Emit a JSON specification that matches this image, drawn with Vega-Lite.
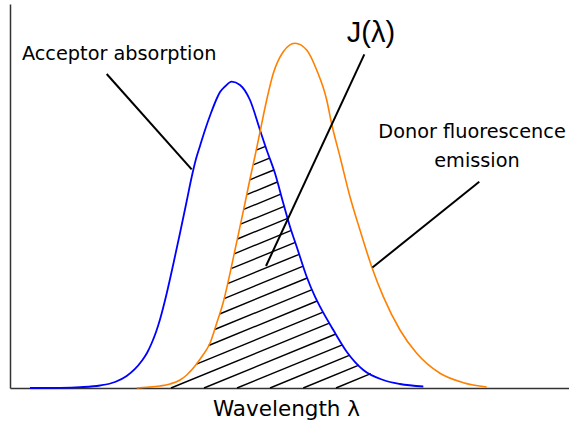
{
  "$schema": "https://vega.github.io/schema/vega-lite/v6.json",
  "usermeta": {"embedOptions": {"actions": false}},
  "width": 559,
  "height": 384,
  "autosize": {"type": "none"},
  "padding": {"left": 10, "top": 4, "right": 0, "bottom": 38},
  "background": "white",
  "config": {"view": {"stroke": null}},
  "datasets": {
    "acceptor": [
      {"x": 3.41, "y": 0}, {"x": 8.78, "y": 0.05}, {"x": 12.37, "y": 0.21}, {"x": 15.95, "y": 0.65},
      {"x": 18.64, "y": 1.56}, {"x": 20.73, "y": 3.13}, {"x": 22.22, "y": 4.95}, {"x": 23.42, "y": 7.03},
      {"x": 24.37, "y": 9.11}, {"x": 25.22, "y": 11.72}, {"x": 25.99, "y": 14.58}, {"x": 26.70, "y": 17.84},
      {"x": 27.90, "y": 24.61}, {"x": 29.09, "y": 32.29}, {"x": 30.29, "y": 40.36}, {"x": 31.49, "y": 48.70},
      {"x": 32.38, "y": 54.95}, {"x": 33.15, "y": 59.64}, {"x": 33.87, "y": 63.02}, {"x": 34.77, "y": 67.19},
      {"x": 35.84, "y": 71.61}, {"x": 36.92, "y": 75.52}, {"x": 37.46, "y": 77.08}, {"x": 38.35, "y": 78.52},
      {"x": 39.55, "y": 79.77}, {"x": 41.04, "y": 78.91}, {"x": 42.83, "y": 75.00}, {"x": 44.62, "y": 67.19},
      {"x": 45.82, "y": 61.98}, {"x": 47.31, "y": 55.91}, {"x": 48.80, "y": 48.10}, {"x": 50.00, "y": 42.01},
      {"x": 51.20, "y": 36.80}, {"x": 52.99, "y": 28.98}, {"x": 54.48, "y": 23.78}, {"x": 55.38, "y": 21.17},
      {"x": 57.76, "y": 15.10}, {"x": 60.16, "y": 9.45}, {"x": 63.14, "y": 4.69}, {"x": 66.72, "y": 2.08},
      {"x": 69.71, "y": 1.04}, {"x": 73.89, "y": 0.39}
    ],
    "donor": [
      {"x": 22.54, "y": 0}, {"x": 24.32, "y": 0.18}, {"x": 26.70, "y": 0.52}, {"x": 28.49, "y": 1.04},
      {"x": 30.29, "y": 2.08}, {"x": 31.49, "y": 3.39}, {"x": 32.97, "y": 5.73}, {"x": 34.18, "y": 8.15},
      {"x": 35.66, "y": 11.64}, {"x": 36.86, "y": 16.85}, {"x": 38.05, "y": 22.40}, {"x": 39.25, "y": 29.87},
      {"x": 40.14, "y": 35.94}, {"x": 41.04, "y": 42.01}, {"x": 41.94, "y": 48.18}, {"x": 42.83, "y": 54.43},
      {"x": 43.73, "y": 60.42}, {"x": 44.62, "y": 66.67}, {"x": 45.82, "y": 75.00}, {"x": 47.01, "y": 81.95},
      {"x": 48.80, "y": 87.58}, {"x": 50.90, "y": 89.77}, {"x": 52.99, "y": 88.02}, {"x": 54.78, "y": 82.81},
      {"x": 56.58, "y": 75.00}, {"x": 57.47, "y": 68.75}, {"x": 58.96, "y": 60.23}, {"x": 60.75, "y": 49.82},
      {"x": 62.54, "y": 41.15}, {"x": 64.64, "y": 31.59}, {"x": 66.72, "y": 23.78}, {"x": 69.71, "y": 15.10},
      {"x": 72.70, "y": 9.04}, {"x": 76.88, "y": 3.83}, {"x": 81.06, "y": 1.38}, {"x": 85.25, "y": 0.26}
    ],
    "overlapHatch": [
      {"x": 43.94, "y": 61.95, "x2": 45.61, "y2": 62.94},
      {"x": 43.39, "y": 58.10, "x2": 46.34, "y2": 59.84},
      {"x": 42.80, "y": 54.22, "x2": 47.10, "y2": 56.77},
      {"x": 42.26, "y": 50.36, "x2": 47.74, "y2": 53.65},
      {"x": 41.70, "y": 46.51, "x2": 48.35, "y2": 50.47},
      {"x": 41.13, "y": 42.66, "x2": 48.96, "y2": 47.32},
      {"x": 40.57, "y": 38.80, "x2": 49.57, "y2": 44.17},
      {"x": 40.00, "y": 34.95, "x2": 50.23, "y2": 41.04},
      {"x": 39.43, "y": 31.07, "x2": 50.95, "y2": 37.94},
      {"x": 38.82, "y": 27.19, "x2": 51.65, "y2": 34.82},
      {"x": 38.19, "y": 23.28, "x2": 52.37, "y2": 31.74},
      {"x": 37.38, "y": 19.27, "x2": 53.08, "y2": 28.65},
      {"x": 36.49, "y": 15.23, "x2": 53.96, "y2": 25.63},
      {"x": 35.43, "y": 11.07, "x2": 54.86, "y2": 22.66},
      {"x": 33.23, "y": 6.22, "x2": 55.93, "y2": 19.77},
      {"x": 28.67, "y": 0, "x2": 57.06, "y2": 16.90},
      {"x": 34.59, "y": 0, "x2": 58.21, "y2": 14.06},
      {"x": 40.50, "y": 0, "x2": 59.39, "y2": 11.25},
      {"x": 46.42, "y": 0, "x2": 60.73, "y2": 8.54},
      {"x": 52.37, "y": 0, "x2": 62.35, "y2": 5.96},
      {"x": 58.24, "y": 0, "x2": 64.48, "y2": 3.72}
    ],
    "leaders": [
      {"x": 17.15, "y": 81.77, "x2": 32.38, "y2": 56.95},
      {"x": 63.32, "y": 86.90, "x2": 45.70, "y2": 31.77},
      {"x": 83.92, "y": 53.72, "x2": 64.78, "y2": 31.38}
    ],
    "labels": [
      {"label": "Acceptor absorption", "x": 19.39, "y": 85.42},
      {"label": "Donor fluorescence", "x": 82.62, "y": 65.10},
      {"label": "emission", "x": 83.51, "y": 57.63}
    ],
    "integral": [
      {"label": "J(λ)", "x": 64.52, "y": 90.10}
    ]
  },
  "encoding": {
    "x": {
      "field": "x",
      "type": "quantitative",
      "scale": {"domain": [-0.18, 100], "nice": false, "zero": false},
      "axis": {
        "title": "Wavelength λ",
        "labels": false,
        "ticks": false,
        "grid": false,
        "domainColor": "#333333",
        "domainWidth": 1.5,
        "titleFont": "DejaVu Sans",
        "titleFontSize": 21.5,
        "titleFontWeight": "normal",
        "titleColor": "black",
        "titleBaseline": "alphabetic",
        "titleAlign": "center",
        "titleX": 276,
        "titleY": 27
      }
    },
    "y": {
      "field": "y",
      "type": "quantitative",
      "scale": {"domain": [0, 100], "nice": false, "zero": false},
      "axis": {
        "title": null,
        "labels": false,
        "ticks": false,
        "grid": false,
        "domainColor": "#333333",
        "domainWidth": 1.5
      }
    }
  },
  "layer": [
    {
      "data": {"name": "overlapHatch"},
      "mark": {"type": "rule", "color": "black", "strokeWidth": 1.4},
      "encoding": {
        "x2": {"field": "x2"},
        "y2": {"field": "y2"}
      }
    },
    {
      "data": {"name": "acceptor"},
      "mark": {"type": "line", "color": "#0000ff", "strokeWidth": 1.8, "interpolate": "monotone"},
      "encoding": {}
    },
    {
      "data": {"name": "donor"},
      "mark": {"type": "line", "color": "#ff8000", "strokeWidth": 1.6, "interpolate": "monotone"},
      "encoding": {}
    },
    {
      "data": {"name": "leaders"},
      "mark": {"type": "rule", "color": "black", "strokeWidth": 2},
      "encoding": {
        "x2": {"field": "x2"},
        "y2": {"field": "y2"}
      }
    },
    {
      "data": {"values": [{}]},
      "mark": {"type": "rule", "color": "#333333", "strokeWidth": 1.5},
      "encoding": {
        "x": {"datum": -0.18},
        "x2": {"datum": 100},
        "y": {"datum": 100}
      }
    },
    {
      "data": {"name": "labels"},
      "mark": {
        "type": "text",
        "align": "center",
        "baseline": "alphabetic",
        "font": "DejaVu Sans",
        "fontSize": 19.3,
        "color": "black"
      },
      "encoding": {"text": {"field": "label"}}
    },
    {
      "data": {"name": "integral"},
      "mark": {
        "type": "text",
        "align": "center",
        "baseline": "alphabetic",
        "font": "Liberation Sans",
        "fontSize": 29,
        "color": "black"
      },
      "encoding": {"text": {"field": "label"}}
    }
  ]
}
